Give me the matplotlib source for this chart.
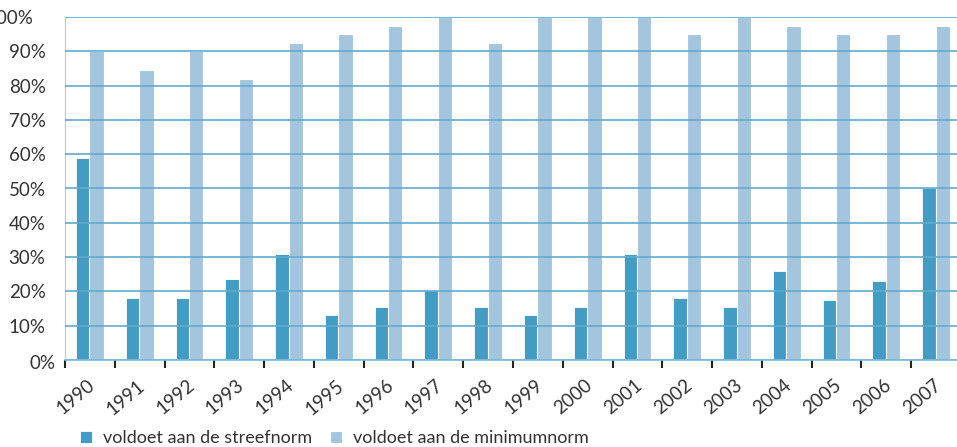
import matplotlib
matplotlib.use('Agg')
import matplotlib.pyplot as plt
import matplotlib.transforms as mtransforms
import numpy as np

years = ['1990', '1991', '1992', '1993', '1994', '1995', '1996', '1997', '1998',
         '1999', '2000', '2001', '2002', '2003', '2004', '2005', '2006', '2007']
streefnorm = [59, 18, 18, 23.5, 31, 13, 15.5, 20.5, 15.5,
              13, 15.5, 31, 18, 15.5, 26, 17.5, 23, 50]
minimumnorm = [90, 84.5, 90, 82, 92.5, 95, 97.5, 100, 92.5,
               100, 100, 100, 95, 100, 97.5, 95, 95, 97.5]
yticks = [0, 10, 20, 30, 40, 50, 60, 70, 80, 90, 100]
ytick_labels = ['0%', '10%', '20%', '30%', '40%', '50%', '60%', '70%', '80%', '90%', '100%']
legend_labels = ['voldoet aan de streefnorm', 'voldoet aan de minimumnorm']

dark = '#429cc3'
light = '#a3c5de'
grid_col = '#62abd0'
text_col = '#333333'

plt.rcParams['font.family'] = ['Lato', 'DejaVu Sans']

fig = plt.figure(figsize=(9.57, 4.47), dpi=100)
ax = fig.add_axes([65 / 957, 87 / 447, 896 / 957, 343 / 447])

x = np.arange(len(years))
b1 = ax.bar(x - 0.28, streefnorm, width=0.27, align='edge', color=dark,
            edgecolor='white', linewidth=0.6, zorder=2)
b2 = ax.bar(x - 0.01, minimumnorm, width=0.29, align='edge', color=light,
            edgecolor='white', linewidth=0.8, zorder=2)

ax.set_xlim(-0.5, len(years) - 0.5)
ax.set_ylim(0, 100)
ax.set_yticks(yticks)
ax.set_yticklabels(ytick_labels, fontsize=13.5, color=text_col)
ax.tick_params(axis='y', length=0, pad=14)
ax.yaxis.grid(True, color=grid_col, linewidth=1.2, zorder=3)
ax.set_axisbelow(False)

# the 100% label sits further left (cut at the edge), the 0% label further right and lower
labs = ax.get_yticklabels()
labs[-1].set_transform(labs[-1].get_transform() + mtransforms.ScaledTranslation(-12 / 100, 0, fig.dpi_scale_trans))
labs[0].set_transform(labs[0].get_transform() + mtransforms.ScaledTranslation(10 / 100, -2 / 100, fig.dpi_scale_trans))

ax.set_xticks(x)
ax.set_xticklabels(years, rotation=40, ha='right', va='top', rotation_mode='anchor',
                   fontsize=13.5, color=text_col)
ax.tick_params(axis='x', which='major', length=0, pad=12)
for t in ax.get_xticklabels():
    t.set_transform(t.get_transform() + mtransforms.ScaledTranslation(-3 / 100, 0, fig.dpi_scale_trans))
ax.set_xticks(np.arange(len(years)) - 0.5, minor=True)
ax.tick_params(axis='x', which='minor', length=6, width=1.5, color='#222222')

for s in ['top', 'right']:
    ax.spines[s].set_visible(False)
ax.spines['left'].set_color('#a9cfe3')
ax.spines['bottom'].set_color('#7fbad8')
ax.spines['bottom'].set_linewidth(1.2)
ax.spines['bottom'].set_zorder(4)

fig.legend([b1, b2], legend_labels, loc='center left', bbox_to_anchor=(64 / 957, 1 - 438 / 447),
           ncol=2, frameon=False, fontsize=13, handlelength=0.65, handleheight=0.65,
           handletextpad=0.6, columnspacing=1.0, labelcolor=text_col)

fig.savefig('out.png', dpi=100)
